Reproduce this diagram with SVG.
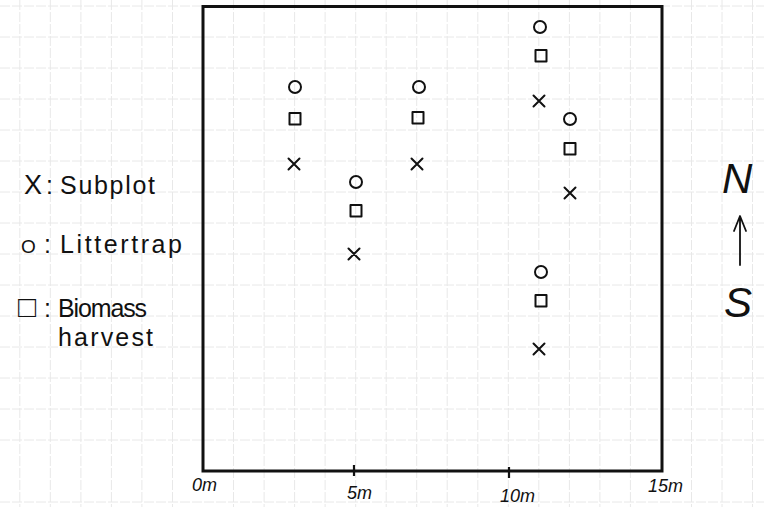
<svg xmlns="http://www.w3.org/2000/svg" xmlns:xlink="http://www.w3.org/1999/xlink" width="764" height="507" viewBox="0 0 764 507">
<style>
.grid line{stroke:#e8e8e8;stroke-width:1;stroke-dasharray:10 2}
.frame{fill:none;stroke:#111;stroke-width:3;stroke-linejoin:miter}
.mk{fill:none;stroke:#111;stroke-width:2;stroke-linecap:round;stroke-linejoin:round}
.lbl{font-family:"Liberation Sans",Arial,sans-serif;fill:#111}
.leg{font-size:25px}
.ax{font-size:18px;font-style:italic}
.dir{font-size:42px;font-style:italic}
</style>
<defs>
<g id="circ"><circle cx="0" cy="0" r="6" class="mk"/></g>
<g id="sq"><rect x="-5.5" y="-6" width="11" height="11.5" class="mk"/></g>
<g id="cross"><path d="M-5.5,-5.5 L5.5,5.5 M5.5,-5.5 L-5.5,5.5" class="mk"/></g>
</defs>
<rect width="764" height="507" fill="#fff"/>
<g class="grid">
<line x1="19.8" y1="0" x2="19.8" y2="507"/><line x1="50.3" y1="0" x2="50.3" y2="507"/><line x1="80.9" y1="0" x2="80.9" y2="507"/><line x1="111.4" y1="0" x2="111.4" y2="507"/><line x1="141.9" y1="0" x2="141.9" y2="507"/><line x1="172.5" y1="0" x2="172.5" y2="507"/><line x1="233.5" y1="0" x2="233.5" y2="507"/><line x1="264.1" y1="0" x2="264.1" y2="507"/><line x1="294.6" y1="0" x2="294.6" y2="507"/><line x1="325.1" y1="0" x2="325.1" y2="507"/><line x1="355.7" y1="0" x2="355.7" y2="507"/><line x1="386.2" y1="0" x2="386.2" y2="507"/><line x1="416.7" y1="0" x2="416.7" y2="507"/><line x1="447.2" y1="0" x2="447.2" y2="507"/><line x1="477.8" y1="0" x2="477.8" y2="507"/><line x1="508.3" y1="0" x2="508.3" y2="507"/><line x1="538.8" y1="0" x2="538.8" y2="507"/><line x1="569.4" y1="0" x2="569.4" y2="507"/><line x1="599.9" y1="0" x2="599.9" y2="507"/><line x1="630.4" y1="0" x2="630.4" y2="507"/><line x1="691.5" y1="0" x2="691.5" y2="507"/><line x1="722" y1="0" x2="722" y2="507"/><line x1="752.5" y1="0" x2="752.5" y2="507"/>
<line x1="0" y1="37" x2="764" y2="37"/><line x1="0" y1="68" x2="764" y2="68"/><line x1="0" y1="99" x2="764" y2="99"/><line x1="0" y1="130" x2="764" y2="130"/><line x1="0" y1="161" x2="764" y2="161"/><line x1="0" y1="192" x2="764" y2="192"/><line x1="0" y1="223" x2="764" y2="223"/><line x1="0" y1="254" x2="764" y2="254"/><line x1="0" y1="285" x2="764" y2="285"/><line x1="0" y1="316" x2="764" y2="316"/><line x1="0" y1="347" x2="764" y2="347"/><line x1="0" y1="378" x2="764" y2="378"/><line x1="0" y1="409" x2="764" y2="409"/><line x1="0" y1="440" x2="764" y2="440"/><line x1="0" y1="502" x2="764" y2="502"/><line x1="0" y1="6" x2="764" y2="6"/>
</g>
<g id="plot-frame">
<path class="frame" d="M203,471 L203,6.5 L662,6.5 L662,471 Z"/>
<path d="M354,465 L354,476 M509,467 L509,478" stroke="#111" stroke-width="2.2" fill="none"/>
</g>
<g id="axis-labels" class="lbl ax">
<text x="192" y="491">0m</text>
<text x="347" y="499">5m</text>
<text x="500" y="502">10m</text>
<text x="648" y="492">15m</text>
</g>
<g id="site-3m">
<use xlink:href="#circ" x="295" y="87"/>
<use xlink:href="#sq" x="295" y="119"/>
<use xlink:href="#cross" x="294" y="164"/>
</g>
<g id="site-5m">
<use xlink:href="#circ" x="356" y="182"/>
<use xlink:href="#sq" x="356" y="211"/>
<use xlink:href="#cross" x="354" y="254"/>
</g>
<g id="site-7m">
<use xlink:href="#circ" x="419" y="87"/>
<use xlink:href="#sq" x="418" y="118"/>
<use xlink:href="#cross" x="417" y="164"/>
</g>
<g id="site-11m-north">
<use xlink:href="#circ" x="540" y="27"/>
<use xlink:href="#sq" x="541" y="56"/>
<use xlink:href="#cross" x="539" y="101"/>
</g>
<g id="site-12m">
<use xlink:href="#circ" x="570" y="119"/>
<use xlink:href="#sq" x="570" y="149"/>
<use xlink:href="#cross" x="570" y="193"/>
</g>
<g id="site-11m-south">
<use xlink:href="#circ" x="541" y="272"/>
<use xlink:href="#sq" x="541" y="301"/>
<use xlink:href="#cross" x="539" y="349"/>
</g>
<g id="legend" class="lbl leg">
<text y="194"><tspan x="24" font-size="27">X</tspan><tspan x="46">:</tspan><tspan x="60" textLength="95" lengthAdjust="spacing">Subplot</tspan></text>
<text y="253"><tspan x="21" font-size="19">O</tspan><tspan x="44">:</tspan><tspan x="60" textLength="122" lengthAdjust="spacing">Littertrap</tspan></text>
<text y="317"><tspan x="18" font-size="30">□</tspan><tspan x="44">:</tspan><tspan x="58" textLength="89" lengthAdjust="spacing">Biomass</tspan></text>
<text y="346"><tspan x="58" textLength="95" lengthAdjust="spacing">harvest</tspan></text>
</g>
<g id="compass">
<text class="lbl dir" x="722" y="193">N</text>
<path d="M740,265 L740,217 M734,231 L740,216 L746,231" stroke="#111" stroke-width="1.8" fill="none" stroke-linecap="round" stroke-linejoin="round"/>
<text class="lbl dir" x="724" y="317">S</text>
</g>
</svg>
